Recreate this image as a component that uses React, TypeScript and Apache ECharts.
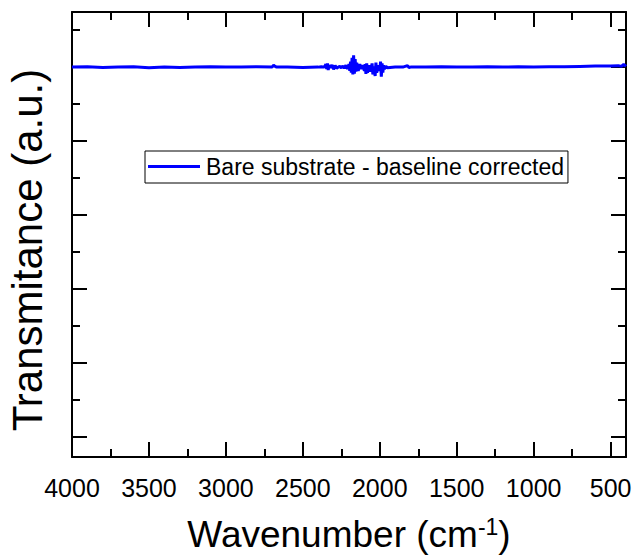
import React, { useEffect, useRef } from "react";
import * as echarts from "echarts";

const wavenumbers: number[] = [
  4000, 3900, 3800, 3700, 3600, 3500, 3400, 3300, 3200, 3100, 3000, 2900, 2800, 2700, 2690, 2680, 2670, 2600, 2500, 2400, 2380,
  2360, 2350, 2345, 2340, 2335, 2330, 2320, 2310, 2300, 2290, 2280, 2270, 2260, 2250, 2240, 2230, 2220, 2210, 2200, 2195,
  2190, 2185, 2180, 2175, 2170, 2165, 2160, 2155, 2150, 2140, 2130, 2120, 2110, 2100, 2095, 2090, 2085, 2080, 2070, 2060,
  2050, 2045, 2040, 2030, 2025, 2020, 2010, 2000, 1995, 1990, 1985, 1980, 1975, 1970, 1960, 1950, 1900, 1850, 1820, 1810,
  1800, 1700, 1600, 1500, 1400, 1300, 1200, 1100, 1000, 900, 800, 700, 600, 500, 450, 430, 415, 405, 400,
];
const transmittance: number[] = [
  10.0, 10.01, 9.99, 10.0, 10.01, 9.98, 10.0, 9.99, 10.0, 10.01, 10.0, 10.0, 10.01, 10.0, 10.05, 10.02, 10.0, 10.0, 9.99, 10.0, 10.01,
  10.0, 10.08, 9.95, 10.1, 9.92, 10.05, 9.98, 10.06, 9.94, 10.04, 9.97, 10.0, 10.02, 9.98, 10.03, 9.97, 10.05, 9.95, 10.08, 9.9,
  10.15, 9.85, 10.25, 9.8, 10.32, 9.82, 10.22, 9.88, 10.12, 9.9, 10.08, 9.95, 10.05, 9.9, 10.08, 9.82, 10.1, 9.85, 10.05, 9.88,
  10.1, 9.8, 10.02, 9.76, 10.12, 9.85, 10.05, 9.9, 10.15, 9.74, 10.1, 9.85, 10.05, 9.95, 10.02, 9.98, 10.0, 10.0, 10.04, 9.99,
  10.0, 10.0, 10.01, 10.0, 10.0, 10.01, 10.0, 10.01, 10.0, 10.01, 10.01, 10.02, 10.03, 10.03, 10.04, 10.02, 10.07, 10.04, 10.02,
];

const seriesName = "Bare substrate - baseline corrected";
const xMajorTicks: number[] = [500, 1000, 1500, 2000, 2500, 3000, 3500, 4000];
const xMinorTicks: number[] = [750, 1250, 1750, 2250, 2750, 3250, 3750];
const yMajorTicks: number[] = [0, 2, 4, 6, 8, 10];
const yMinorTicks: number[] = [1, 3, 5, 7, 9, 11];

const FONT = "'Liberation Sans', Arial, Helvetica, sans-serif";
const X_MIN = 400;
const X_MAX = 4000;
const Y_MIN = -0.54;
const Y_MAX = 11.49;

export default function App() {
  const ref = useRef<HTMLDivElement>(null);
  useEffect(() => {
    document.body.style.margin = "0";
    if (!ref.current) return;
    const chart = echarts.init(ref.current, null, { renderer: "svg" });
    const line = { show: true, onZero: false, lineStyle: { color: "#000", width: 2 } };
    const noLine = { show: false, onZero: false };
    const xAxisBase = (grid: number, position: string, ticks: number[], len: number, showLine: boolean, showLabel: boolean) => ({
      type: "value",
      gridIndex: grid,
      position,
      inverse: true,
      min: X_MIN,
      max: X_MAX,
      axisLine: showLine ? line : noLine,
      splitLine: { show: false },
      axisTick: { show: true, inside: true, length: len, lineStyle: { color: "#000", width: 2 }, customValues: ticks },
      axisLabel: showLabel
        ? {
            show: true,
            customValues: ticks,
            color: "#000",
            fontSize: 25,
            fontFamily: FONT,
            margin: 18,
            formatter: (v: number) => String(v),
          }
        : { show: false },
    });
    const yAxisBase = (grid: number, position: string, ticks: number[], len: number, showLine: boolean) => ({
      type: "value",
      gridIndex: grid,
      position,
      min: Y_MIN,
      max: Y_MAX,
      axisLine: showLine ? line : noLine,
      splitLine: { show: false },
      axisTick: { show: true, inside: true, length: len, lineStyle: { color: "#000", width: 2 }, customValues: ticks },
      axisLabel: { show: false },
    });
    const gridRect = { left: 72, right: 10, top: 12, bottom: 99, containLabel: false };
    chart.setOption({
      animation: false,
      grid: [gridRect, gridRect],
      xAxis: [
        xAxisBase(0, "bottom", xMajorTicks, 15, true, true),
        xAxisBase(0, "top", xMajorTicks, 15, true, false),
        xAxisBase(1, "bottom", xMinorTicks, 8, false, false),
        xAxisBase(1, "top", xMinorTicks, 8, false, false),
      ],
      yAxis: [
        yAxisBase(0, "left", yMajorTicks, 15, true),
        yAxisBase(0, "right", yMajorTicks, 15, true),
        yAxisBase(1, "left", yMinorTicks, 8, false),
        yAxisBase(1, "right", yMinorTicks, 8, false),
      ],
      legend: {
        show: true,
        left: 145,
        top: 151,
        orient: "horizontal",
        borderColor: "#000",
        borderWidth: 1,
        padding: [4, 4, 5, 3],
        itemWidth: 52,
        itemHeight: 14,
        itemGap: 0,
        textStyle: { color: "#000", fontSize: 23, fontFamily: FONT, padding: [0, 0, 0, 1] },
        data: [{ name: seriesName, icon: "path://M0,6 L52,6 L52,9 L0,9 Z", itemStyle: { color: "#0000ff" } }],
      },
      series: [
        {
          name: seriesName,
          type: "line",
          xAxisIndex: 0,
          yAxisIndex: 0,
          symbol: "none",
          lineStyle: { color: "#0000ff", width: 3 },
          itemStyle: { color: "#0000ff" },
          data: wavenumbers.map((w, i) => [w, transmittance[i]]),
        },
      ],
      graphic: [
        {
          type: "text",
          x: 27,
          y: 250,
          rotation: Math.PI / 2,
          style: {
            text: "Transmitance (a.u.)",
            fontSize: 42,
            fontFamily: FONT,
            fill: "#000",
            textAlign: "center",
            textVerticalAlign: "middle",
          },
        },
        {
          type: "text",
          x: 349,
          y: 534,
          style: {
            text: "Wavenumber (cm{sup|-1})",
            fontSize: 37,
            fontFamily: FONT,
            fill: "#000",
            textAlign: "center",
            textVerticalAlign: "middle",
            rich: {
              sup: { fontSize: 23, fontFamily: FONT, fill: "#000", verticalAlign: "top", padding: [0, 0, 14, 0] },
            },
          },
        },
      ],
    });
    return () => chart.dispose();
  }, []);
  return <div ref={ref} style={{ width: 636, height: 556 }} />;
}
